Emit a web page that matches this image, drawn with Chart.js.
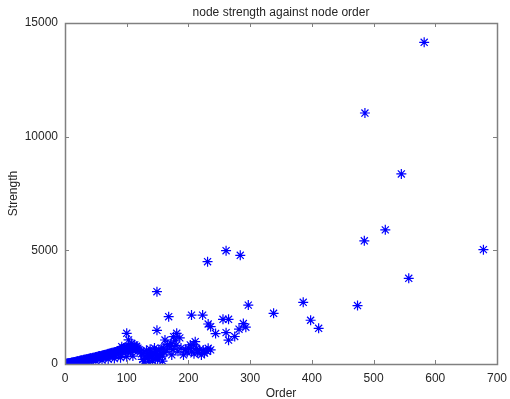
<!DOCTYPE html>
<html>
<head>
<meta charset="utf-8">
<script src="https://cdn.jsdelivr.net/npm/chart.js@4/dist/chart.umd.min.js"></script>
<style>
html,body{margin:0;padding:0;background:#fff;}
#wrap{width:510px;height:399px;}
</style>
</head>
<body>
<div id="wrap"><canvas id="c" width="510" height="399"></canvas></div>
<script>
// ---- data ----
const chartTitle = "node strength against node order";
const xAxisLabel = "Order";
const yAxisLabel = "Strength";
const xTicks = [0, 100, 200, 300, 400, 500, 600, 700];
const yTicks = [0, 5000, 10000, 15000];

// dense band of small nodes
const bandOrder = [1,2,2,3,3,4,4,5,5,6,6,7,8,8,9,10,10,11,12,12,13,14,15,15,16,17,18,19,20,20,21,22,23,24,25,25,26,27,28,29,30,30,31,32,33,34,35,36,37,38,39,40,40,41,42,43,44,45,46,47,48,49,50,50,51,52,53,54,55,56,57,58,59,60,60,61,62,63,64,65,66,67,68,69,70,70,71,72,73,74,75,76,77,78,79,80,80,81,82,83,84,85,86,87,88,89,90,90,91,92,93,94,95,96,97,98,99,100,100,101,102,103,104,105,106,107,108,109,110,110,112,114,115,117,118,120,122];
const bandStrength = [4,8,3,14,7,20,8,25,11,31,14,35,42,17,49,56,25,63,70,31,67,81,87,39,92,77,105,98,119,49,126,109,133,140,154,63,147,161,126,168,182,84,175,196,154,210,203,224,168,231,210,245,112,238,259,196,266,280,224,287,266,301,308,140,294,322,252,336,329,350,280,357,336,378,168,364,392,308,399,406,350,420,392,434,448,210,420,462,364,476,469,490,406,504,462,518,238,490,532,434,546,560,504,574,476,588,602,280,630,532,658,588,700,616,728,560,700,672,322,720,728,630,680,700,532,650,700,690,602,350,720,728,650,672,700,630,532];

// cluster between order 120 and 240
const midOrder = [124,126,128,128,130,132,134,135,135,137,138,140,141,142,143,145,146,148,150,150,152,153,155,157,158,158,160,160,162,165,166,170,172,175,176,178,180,181,183,186,188,192,173,195,198,200,203,205,208,209,211,213,215,218,221,224,226,230,232,236,96,104,110,116,92,100,103,108,113];
const midStrength = [450,200,520,100,350,600,250,120,450,380,650,300,500,150,420,700,250,550,380,180,620,300,480,700,350,130,520,700,1056,560,850,760,900,640,1200,1020,820,1350,560,1150,700,400,400,640,520,700,840,560,840,450,980,690,500,620,400,620,480,560,690,620,700,760,700,780,760,1350,1060,910,840];

// larger, scattered nodes
const bigOrder = [582,486,545,519,485,678,261,284,231,557,149,386,297,474,338,168,205,223,256,265,398,411,149,232,236,289,293,282,275,244,261,265];
const bigStrength = [14150,11040,8360,5900,5420,5030,4985,4780,4500,3770,3180,2715,2590,2570,2230,2080,2150,2150,1966,1966,1925,1570,1480,1760,1640,1780,1620,1530,1210,1340,1380,1050];

const orderValues = bandOrder.concat(midOrder, bigOrder);
const strengthValues = bandStrength.concat(midStrength, bigStrength);
const points = orderValues.map((x, i) => ({x: x, y: strengthValues[i]}));

const FONT = "'Liberation Sans', Arial, Helvetica, sans-serif";
const TXT = '#262626';
const AX = '#808080';

// centre the title over the plot area, as in the reference
const titleOverPlot = {
  id: 'titleOverPlot',
  afterLayout(chart) {
    const t = chart.titleBlock, a = chart.chartArea;
    if (t && a) { t.left = a.left; t.right = a.right; t.width = a.right - a.left; }
  }
};

const boxTicks = {
  id: 'boxTicks',
  afterDatasetsDraw(chart) {
    const ctx = chart.ctx, a = chart.chartArea;
    const xs = chart.scales.x, ys = chart.scales.y;
    const L = 4;
    ctx.save();
    ctx.strokeStyle = AX;
    ctx.lineWidth = 1;
    ctx.beginPath();
    xTicks.forEach(v => {
      const p = Math.round(xs.getPixelForValue(v)) + 0.5;
      ctx.moveTo(p, a.bottom); ctx.lineTo(p, a.bottom - L);
      ctx.moveTo(p, a.top); ctx.lineTo(p, a.top + L);
    });
    yTicks.forEach(v => {
      const p = Math.round(ys.getPixelForValue(v)) + 0.5;
      ctx.moveTo(a.left, p); ctx.lineTo(a.left + L, p);
      ctx.moveTo(a.right, p); ctx.lineTo(a.right - L, p);
    });
    ctx.stroke();
    ctx.lineWidth = 1.5;
    ctx.strokeRect(Math.round(a.left) + 0.5, Math.round(a.top) + 0.5, Math.round(a.right - a.left), Math.round(a.bottom - a.top));
    ctx.restore();
  }
};

new Chart(document.getElementById('c'), {
  type: 'scatter',
  data: {
    datasets: [{
      data: points,
      pointStyle: 'star',
      pointRadius: 5,
      pointBorderWidth: 1.2,
      borderColor: '#0000ff',
      backgroundColor: '#0000ff',
      pointHoverRadius: 5
    }]
  },
  options: {
    responsive: false,
    animation: false,
    events: [],
    layout: { padding: { left: 0, right: 13, top: 0, bottom: 0 } },
    plugins: {
      legend: { display: false },
      tooltip: { enabled: false },
      title: {
        display: true,
        text: chartTitle,
        color: TXT,
        font: { family: FONT, size: 12, weight: 'normal', lineHeight: 1.2 },
        padding: { top: 5, bottom: 3.6 }
      }
    },
    scales: {
      x: {
        type: 'linear',
        min: 0, max: 700,
        afterBuildTicks: s => { s.ticks = xTicks.map(v => ({value: v})); },
        afterFit: s => { s.height = 35; s.paddingLeft = 0; s.paddingRight = 0; },
        grid: { display: false, drawTicks: false, tickLength: 0 },
        border: { display: false },
        ticks: { color: TXT, padding: 7, maxRotation: 0, font: { family: FONT, size: 12 } },
        title: { display: true, text: xAxisLabel, color: TXT, padding: { top: 0, bottom: 0 }, font: { family: FONT, size: 12, lineHeight: 0.9 } }
      },
      y: {
        type: 'linear',
        min: 0, max: 15000,
        afterBuildTicks: s => { s.ticks = yTicks.map(v => ({value: v})); },
        afterFit: s => { s.width = 65; s.paddingTop = 0; s.paddingBottom = 0; },
        grid: { display: false, drawTicks: false, tickLength: 0 },
        border: { display: false },
        ticks: { color: TXT, padding: 7, callback: v => String(v), font: { family: FONT, size: 12 } },
        title: { display: true, text: yAxisLabel, color: TXT, padding: { top: 6, bottom: 0 }, font: { family: FONT, size: 12, lineHeight: 1.2 } }
      }
    }
  },
  plugins: [titleOverPlot, boxTicks]
});
</script>
</body>
</html>
